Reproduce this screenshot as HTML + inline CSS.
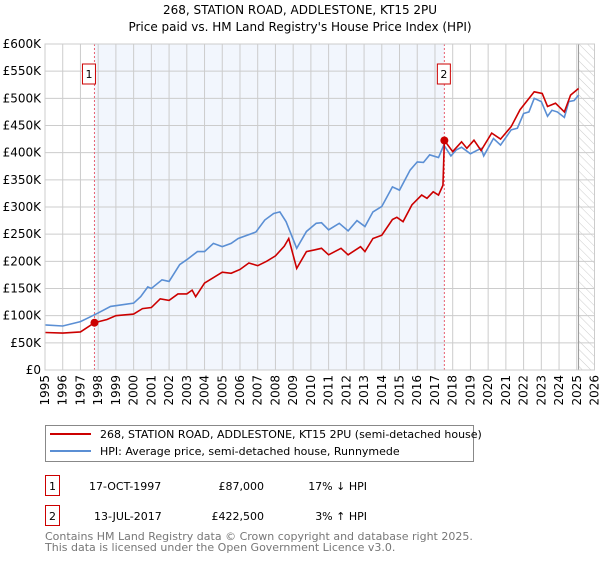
<!DOCTYPE html>
<html><head><meta charset="utf-8"><style>
body{margin:0;background:#fff;font-family:"DejaVu Sans","Liberation Sans",sans-serif;}
svg text{font-family:"DejaVu Sans","Liberation Sans",sans-serif;}
</style></head><body>
<svg id="c" width="600" height="560" xmlns="http://www.w3.org/2000/svg">
<defs><pattern id="hatch" width="6" height="6" patternUnits="userSpaceOnUse" patternTransform="rotate(-45)"><line x1="0" y1="0" x2="0" y2="6" stroke="#ccc" stroke-width="1"/></pattern></defs>
<text x="300" y="14" text-anchor="middle" font-size="12" fill="#000">268, STATION ROAD, ADDLESTONE, KT15 2PU</text>
<text x="300" y="31" text-anchor="middle" font-size="12" fill="#000">Price paid vs. HM Land Registry's House Price Index (HPI)</text>
<g id="plot"></g>
<g>
<rect x="45.5" y="425.5" width="428" height="36" fill="#fff" stroke="#888"/>
<line x1="50" y1="434" x2="91" y2="434" stroke="#cc0000" stroke-width="2"/>
<text x="100" y="438" font-size="11">268, STATION ROAD, ADDLESTONE, KT15 2PU (semi-detached house)</text>
<line x1="50" y1="451" x2="91" y2="451" stroke="#5b8fd4" stroke-width="2"/>
<text x="100" y="455" font-size="11">HPI: Average price, semi-detached house, Runnymede</text>
</g>
<g>
<rect x="45.5" y="475.5" width="14" height="20" fill="#fff" stroke="#cc0000"/>
<text x="52.5" y="490" font-size="11" text-anchor="middle">1</text>
<text x="89" y="490" font-size="11">17-OCT-1997</text>
<text x="264" y="490" font-size="11" text-anchor="end">£87,000</text>
<text x="367" y="490" font-size="11" text-anchor="end">17% ↓ HPI</text>
</g>
<g>
<rect x="45.5" y="505.5" width="14" height="20" fill="#fff" stroke="#cc0000"/>
<text x="52.5" y="520" font-size="11" text-anchor="middle">2</text>
<text x="94" y="520" font-size="11">13-JUL-2017</text>
<text x="264" y="520" font-size="11" text-anchor="end">£422,500</text>
<text x="367" y="520" font-size="11" text-anchor="end">3% ↑ HPI</text>
</g>
<text x="45" y="540" font-size="11" fill="#777">Contains HM Land Registry data © Crown copyright and database right 2025.</text>
<text x="45" y="551" font-size="11" fill="#777">This data is licensed under the Open Government Licence v3.0.</text>
</svg>
<script>
const hpiYears=[1995,1996,1997,1997.5,1998,1998.7,2000,2000.4,2000.8,2001,2001.6,2002,2002.6,2003,2003.6,2004,2004.5,2005,2005.5,2005.9,2006.9,2007.4,2007.9,2008.25,2008.6,2009.2,2009.75,2010.3,2010.6,2011,2011.6,2012.1,2012.6,2013.05,2013.5,2014,2014.6,2015,2015.6,2016,2016.35,2016.7,2017.2,2017.5,2017.9,2018.2,2018.5,2019,2019.6,2019.75,2020.3,2020.7,2021.3,2021.65,2022,2022.3,2022.6,2023,2023.35,2023.6,2023.9,2024.3,2024.55,2024.85,2025.1];
const hpiValues=[83,81,89,97,105,117,123,135,153,150,166,163,194,203,218,218,233,227,233,242,254,276,288,291,273,224,255,270,271,258,270,256,275,264,291,301,337,331,368,383,382,396,391,414,394,405,410,398,408,394,426,414,442,445,472,475,500,494,467,478,475,465,494,496,506];
const propYears=[1995,1996,1997,1997.79,1998.5,1999,2000,2000.5,2001,2001.5,2002,2002.5,2003,2003.3,2003.5,2004,2005,2005.5,2006,2006.5,2007,2007.5,2008,2008.5,2008.75,2009.2,2009.75,2010.2,2010.6,2011,2011.7,2012.1,2012.8,2013.05,2013.5,2014,2014.6,2014.85,2015.2,2015.7,2016.25,2016.55,2016.9,2017.2,2017.45,2017.53,2018,2018.5,2018.8,2019.2,2019.6,2020.2,2020.7,2021.3,2021.8,2022.6,2023.05,2023.35,2023.8,2024.3,2024.65,2025.1];
const propValues=[69,68,70,87,93,100,103,113,115,131,128,140,140,147,135,160,180,178,185,197,192,200,210,228,242,187,218,221,224,212,224,212,227,218,242,248,277,281,273,304,322,316,328,322,340,422.5,402,420,408,423,404,436,425,448,479,512,509,485,491,475,506,518];
const saleYears=[1997.79,2017.53];
const saleValues=[87,422.5];
const saleLabels=["1","2"];
const yTicks=[0,50,100,150,200,250,300,350,400,450,500,550,600];
const yTickLabels=["£0","£50K","£100K","£150K","£200K","£250K","£300K","£350K","£400K","£450K","£500K","£550K","£600K"];
const xTicks=[1995,1996,1997,1998,1999,2000,2001,2002,2003,2004,2005,2006,2007,2008,2009,2010,2011,2012,2013,2014,2015,2016,2017,2018,2019,2020,2021,2022,2023,2024,2025,2026];

const X0=45,X1=594.5,Y0=370,Y1=44,xmin=1995,xmax=2026,ymax=600,dataEnd=2025.1;
const sx=v=>X0+(v-xmin)/(xmax-xmin)*(X1-X0);
const sy=v=>Y0-(v/ymax)*(Y0-Y1);
const NS="http://www.w3.org/2000/svg";
const g=document.getElementById('plot');
function mk(t,a,p){const e=document.createElementNS(NS,t);for(const k in a)e.setAttribute(k,a[k]);(p||g).appendChild(e);return e;}

const shade=mk('rect',{x:sx(saleYears[0]),y:Y1,width:sx(saleYears[1])-sx(saleYears[0]),height:Y0-Y1,fill:'#f2f6fd'});


const hatch=mk('rect',{x:sx(dataEnd),y:Y1,width:X1-sx(dataEnd),height:Y0-Y1,fill:'url(#hatch)'});



xTicks.forEach((t,i)=>{
  const l=mk('line',{x1:sx(t),x2:sx(t),y1:Y1,y2:Y0,stroke:'#ccc','stroke-width':1});
  
  
  const px=sx(t)+4, py=Y0+5;
  const tx=mk('text',{x:px,y:py,'text-anchor':'end','font-size':12,transform:'rotate(-90 '+px+' '+py+')'});
  tx.textContent=t;
  
  
});
yTicks.forEach((t,i)=>{
  const l=mk('line',{x1:X0,x2:X1,y1:sy(t),y2:sy(t),stroke:'#ccc','stroke-width':1});
  
  
  const tx=mk('text',{x:41,y:sy(t)+4,'text-anchor':'end','font-size':12});
  tx.textContent=yTickLabels[i];
  
  
});
const endLine=mk('line',{x1:sx(dataEnd),x2:sx(dataEnd),y1:Y1,y2:Y0,stroke:'#999','stroke-width':1});



saleYears.forEach((y,i)=>{
  const l=mk('line',{x1:sx(y),x2:sx(y),y1:Y1,y2:Y0,stroke:'#e86070','stroke-width':1,'stroke-dasharray':'2,2'});
  
  
});

const hp=mk('polyline',{points:hpiYears.map((y,i)=>sx(y)+','+sy(hpiValues[i])).join(' '),fill:'none',stroke:'#5b8fd4','stroke-width':1.6});


const pp=mk('polyline',{points:propYears.map((y,i)=>sx(y)+','+sy(propValues[i])).join(' '),fill:'none',stroke:'#cc0000','stroke-width':1.6});



saleYears.forEach((y,i)=>{
  const c=mk('circle',{cx:sx(y),cy:sy(saleValues[i]),r:4,fill:'#cc0000'});
  
  
  const r=mk('rect',{x:sx(y)-(i==0?5:0)-7,y:64,width:13,height:20,fill:'#fff',stroke:'#cc0000'});
  
  
  const t=mk('text',{x:sx(y)-(i==0?5:0)-0.5,y:78,'text-anchor':'middle','font-size':11});
  t.textContent=saleLabels[i];
  
  
});
const border=mk('rect',{x:X0,y:Y1,width:X1-X0,height:Y0-Y1,fill:'none',stroke:'#ccc'});


</script>
</body></html>
